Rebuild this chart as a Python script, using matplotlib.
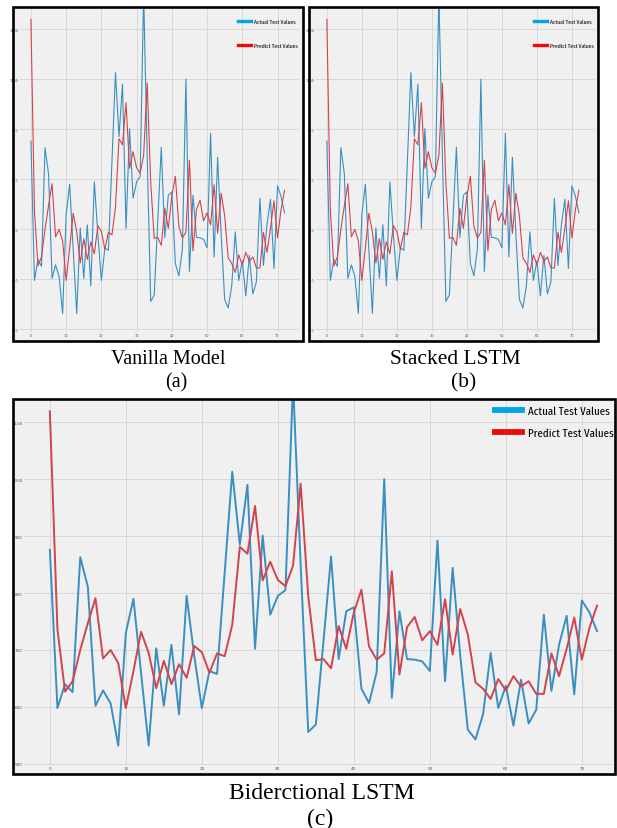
import matplotlib.pyplot as plt
from matplotlib.patches import Rectangle
from matplotlib.lines import Line2D

W, H = 617, 829

# values (same test series shown in all three panels)
steps = list(range(73))
actual = [876, 598, 640, 626, 863, 811, 602, 629, 606, 532,
          730, 790, 660, 532, 703, 602, 709, 587, 795, 690,
          598, 663, 658, 835, 1013, 885, 990, 702, 901, 762,
          795, 805, 1170, 850, 556, 569, 715, 864, 684, 768,
          775, 632, 607, 661, 1000, 616, 768, 684, 683, 680,
          663, 892, 645, 844, 690, 560, 543, 587, 695, 598,
          637, 567, 648, 571, 595, 762, 628, 709, 760, 622,
          787, 766, 733]
predict = [1119, 736, 627, 645, 700, 747, 791, 685, 700, 677,
           598, 663, 732, 695, 633, 681, 640, 675, 651, 707,
           696, 660, 694, 689, 744, 881, 869, 953, 822, 855,
           823, 812, 848, 992, 794, 682, 684, 668, 742, 702,
           766, 806, 706, 683, 694, 838, 657, 740, 758, 717,
           733, 709, 789, 692, 772, 727, 643, 632, 614, 649,
           629, 654, 636, 645, 623, 623, 694, 654, 702, 757,
           683, 739, 778]
labels = ['Actual Test Values', 'Predict Test Values']
captions = [('Vanilla Model', '(a)'), ('Stacked LSTM', '(b)'), ('Biderctional LSTM', '(c)')]

BG = '#f0f0f0'
GRID = '#d8d8d8'
BLUE = '#3a8fc2'
RED = '#d2434c'
NARROW = ['Fira Sans Extra Condensed', 'Liberation Sans', 'DejaVu Sans']


def box(l, t, r, b):
    return [l / W, 1 - b / H, (r - l) / W, (b - t) / H]


fig = plt.figure(figsize=(W / 100, H / 100), dpi=100)


def frame(l, t, r, b):
    xy = (l / W, 1 - b / H)
    w, h = (r - l) / W, (b - t) / H
    # light fill behind the axes, black border on top
    fig.patches.append(Rectangle(xy, w, h, transform=fig.transFigure,
                                 facecolor=BG, edgecolor='none', zorder=-5))
    fig.patches.append(Rectangle(xy, w, h, transform=fig.transFigure,
                                 facecolor='none', edgecolor='black',
                                 linewidth=1.9, zorder=5))


def panel(pos, xlim, ylim, lw, tick_fs, leg_fs, leg_anchor, hl, ls):
    ax = fig.add_axes(box(*pos))
    ax.set_facecolor(BG)
    ax.plot(steps, actual, color=BLUE, lw=lw)
    ax.plot(steps, predict, color=RED, lw=lw)
    ax.set_xlim(*xlim)
    ax.set_ylim(*ylim)
    ax.set_xticks(range(0, 71, 10))
    ax.set_yticks(range(500, 1101, 100))
    ax.grid(True, color=GRID, lw=0.7)
    ax.set_axisbelow(True)
    for s in ax.spines.values():
        s.set_visible(False)
    ax.tick_params(length=0, labelsize=tick_fs, labelcolor='#555555', pad=1)
    handles = [Line2D([], [], color='#00a5e5', lw=lw * 3),
               Line2D([], [], color='#ee0a0a', lw=lw * 3)]
    ax.legend(handles, labels, loc='upper left', bbox_to_anchor=leg_anchor,
              frameon=False, borderpad=0, borderaxespad=0,
              handlelength=hl, handletextpad=0.5, labelspacing=ls,
              prop={'family': NARROW, 'size': leg_fs})
    return ax


# (a) and (b)
frame(13, 8, 303, 342)
panel((20, 10, 299, 333), (-3.1, 76.1), (495, 1140), 0.8, 2.5, 4.4,
      (0.78, 0.97), 2.2, 3.0)
frame(309, 8, 598, 342)
panel((316, 10, 595, 333), (-3.1, 76.6), (495, 1140), 0.8, 2.5, 4.4,
      (0.78, 0.97), 2.2, 3.0)

# (c)
frame(13, 400, 615, 775)
panel((24, 401, 613, 766), (-3.4, 74.1), (498, 1139), 1.4, 3, 8.5,
      (0.8, 0.985), 2.3, 1.0)

fig.text(168 / W, 1 - 359 / H, captions[0][0], family='Liberation Serif',
         size=14.5, ha='center', va='center')
fig.text(176 / W, 1 - 383 / H, captions[0][1], family='Liberation Serif',
         size=14.5, ha='center', va='center')
fig.text(455 / W, 1 - 359 / H, captions[1][0], family='Liberation Serif',
         size=15.5, ha='center', va='center')
fig.text(464 / W, 1 - 383 / H, captions[1][1], family='Liberation Serif',
         size=15.5, ha='center', va='center')
fig.text(322 / W, 1 - 794 / H, captions[2][0], family='Liberation Serif',
         size=17, ha='center', va='center')
fig.text(320 / W, 1 - 819 / H, captions[2][1], family='Liberation Serif',
         size=17, ha='center', va='center')

fig.savefig('out.png', dpi=100, facecolor='white')
